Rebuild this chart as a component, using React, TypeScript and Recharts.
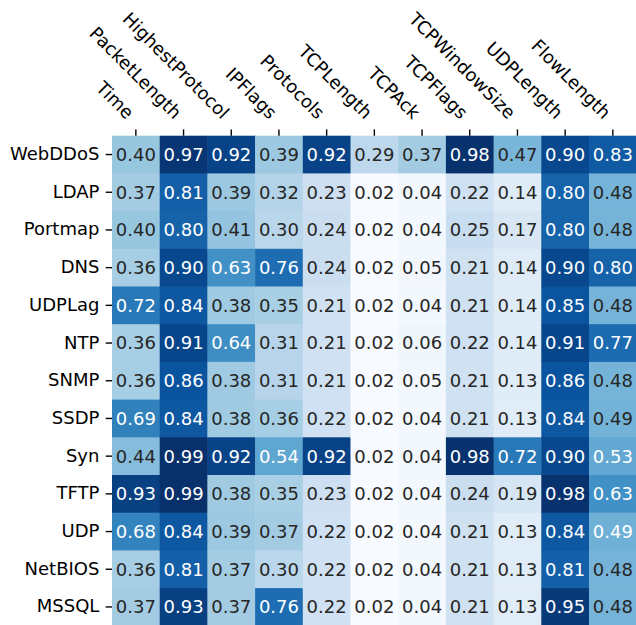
import { BarChart, Bar, XAxis, YAxis } from 'recharts';

const FEATURES = [
  'Time', 'PacketLength', 'HighestProtocol', 'IPFlags', 'Protocols', 'TCPLength',
  'TCPAck', 'TCPFlags', 'TCPWindowSize', 'UDPLength', 'FlowLength',
];

const ATTACKS = [
  'WebDDoS', 'LDAP', 'Portmap', 'DNS', 'UDPLag', 'NTP', 'SNMP',
  'SSDP', 'Syn', 'TFTP', 'UDP', 'NetBIOS', 'MSSQL',
];

// one row per attack, one value per feature
const WEBDDOS = [0.40, 0.97, 0.92, 0.39, 0.92, 0.29, 0.37, 0.98, 0.47, 0.90, 0.83];
const LDAP = [0.37, 0.81, 0.39, 0.32, 0.23, 0.02, 0.04, 0.22, 0.14, 0.80, 0.48];
const PORTMAP = [0.40, 0.80, 0.41, 0.30, 0.24, 0.02, 0.04, 0.25, 0.17, 0.80, 0.48];
const DNS = [0.36, 0.90, 0.63, 0.76, 0.24, 0.02, 0.05, 0.21, 0.14, 0.90, 0.80];
const UDPLAG = [0.72, 0.84, 0.38, 0.35, 0.21, 0.02, 0.04, 0.21, 0.14, 0.85, 0.48];
const NTP = [0.36, 0.91, 0.64, 0.31, 0.21, 0.02, 0.06, 0.22, 0.14, 0.91, 0.77];
const SNMP = [0.36, 0.86, 0.38, 0.31, 0.21, 0.02, 0.05, 0.21, 0.13, 0.86, 0.48];
const SSDP = [0.69, 0.84, 0.38, 0.36, 0.22, 0.02, 0.04, 0.21, 0.13, 0.84, 0.486];
const SYN = [0.44, 0.99, 0.92, 0.54, 0.92, 0.02, 0.04, 0.98, 0.72, 0.90, 0.53];
const TFTP = [0.93, 0.99, 0.38, 0.35, 0.23, 0.02, 0.04, 0.24, 0.19, 0.98, 0.63];
const UDP = [0.68, 0.84, 0.39, 0.37, 0.22, 0.02, 0.04, 0.21, 0.13, 0.84, 0.494];
const NETBIOS = [0.36, 0.81, 0.37, 0.30, 0.22, 0.02, 0.04, 0.21, 0.13, 0.81, 0.48];
const MSSQL = [0.37, 0.93, 0.37, 0.76, 0.22, 0.02, 0.04, 0.21, 0.13, 0.95, 0.48];

const VALUES = [WEBDDOS, LDAP, PORTMAP, DNS, UDPLAG, NTP, SNMP, SSDP, SYN, TFTP, UDP, NETBIOS, MSSQL];

const BLUES = ['#f7fbff', '#deebf7', '#c6dbef', '#9ecae1', '#6baed6', '#4292c6', '#2171b5', '#08519c', '#08306b'];

const FONT = '"DejaVu Sans", sans-serif';
const FS = 18;

const flat = VALUES.flat();
const VMIN = Math.min(...flat);
const VMAX = Math.max(...flat);

const hex = (h: string) => [1, 3, 5].map((i) => parseInt(h.slice(i, i + 2), 16));

function blues(v: number): number[] {
  const t = Math.max(0, Math.min(1, (v - VMIN) / (VMAX - VMIN)));
  // matplotlib lut is 256 steps
  const idx = Math.min(255, Math.floor(t * 256));
  const p = (idx / 255) * (BLUES.length - 1);
  const i = Math.min(BLUES.length - 2, Math.floor(p));
  const f = p - i;
  const a = hex(BLUES[i]);
  const b = hex(BLUES[i + 1]);
  return a.map((c, k) => c + (b[k] - c) * f);
}

function luminance(rgb: number[]) {
  const lin = rgb.map((c) => {
    const s = c / 255;
    return s <= 0.03928 ? s / 12.92 : Math.pow((s + 0.055) / 1.055, 2.4);
  });
  return 0.2126 * lin[0] + 0.7152 * lin[1] + 0.0722 * lin[2];
}

const rows = ATTACKS.map((name) => {
  const r: Record<string, string | number> = { name };
  FEATURES.forEach((f) => {
    r[f] = 1;
  });
  return r;
});

function makeShape(col: number) {
  return (props: any) => {
    const { x, y, width, height, payload } = props;
    const row = ATTACKS.indexOf(payload.name);
    const v = VALUES[row][col];
    const rgb = blues(v);
    const fill = `rgb(${rgb.map((c) => Math.round(c)).join(',')})`;
    const txt = luminance(rgb) > 0.4 ? '#262626' : '#ffffff';
    return (
      <g>
        <rect x={x} y={y} width={width + 0.5} height={height + 0.5} fill={fill} />
        <text
          x={x + width / 2}
          y={y + height / 2 + 6.2}
          textAnchor="middle"
          fontFamily={FONT}
          fontSize={FS}
          fill={txt}
        >
          {v.toFixed(2)}
        </text>
      </g>
    );
  };
}

function TopTick(props: any) {
  const { x, y, payload } = props;
  const label = FEATURES[Math.floor(payload.value)];
  return (
    <text
      x={x - 9.7}
      y={y - 3}
      transform={`rotate(45 ${x - 9.7} ${y - 3})`}
      textAnchor="end"
      fontFamily={FONT}
      fontSize={FS}
      fill="#000"
    >
      {label}
    </text>
  );
}

function LeftTick(props: any) {
  const { x, y, payload } = props;
  return (
    <text x={x} y={y + 5.5} textAnchor="end" fontFamily={FONT} fontSize={FS} fill="#000">
      {payload.value}
    </text>
  );
}

const TICKS = FEATURES.map((_, i) => i + 0.5);

export default function App() {
  return (
    <div
      style={{
        position: 'fixed',
        left: 0,
        top: 0,
        width: 636,
        height: 625,
        overflow: 'hidden',
        background: '#fff',
      }}
    >
      <BarChart
        width={640}
        height={630}
        data={rows}
        layout="vertical"
        barCategoryGap={0}
        barGap={0}
        margin={{ top: 0, right: 3.3, bottom: 4.2, left: 0 }}
      >
        <XAxis
          type="number"
          orientation="top"
          domain={[0, FEATURES.length]}
          allowDataOverflow
          ticks={TICKS}
          interval={0}
          height={135.7}
          axisLine={false}
          tickSize={6.3}
          tickMargin={6.3}
          tickLine={{ stroke: '#000', strokeWidth: 1.4 }}
          tick={<TopTick />}
        />
        <YAxis
          type="category"
          dataKey="name"
          width={112}
          interval={0}
          axisLine={false}
          tickSize={6.3}
          tickMargin={6.3}
          tickLine={{ stroke: '#000', strokeWidth: 1.4 }}
          tick={<LeftTick />}
        />
        {FEATURES.map((f, j) => (
          <Bar key={f} dataKey={f} stackId="a" isAnimationActive={false} shape={makeShape(j)} />
        ))}
      </BarChart>
    </div>
  );
}
